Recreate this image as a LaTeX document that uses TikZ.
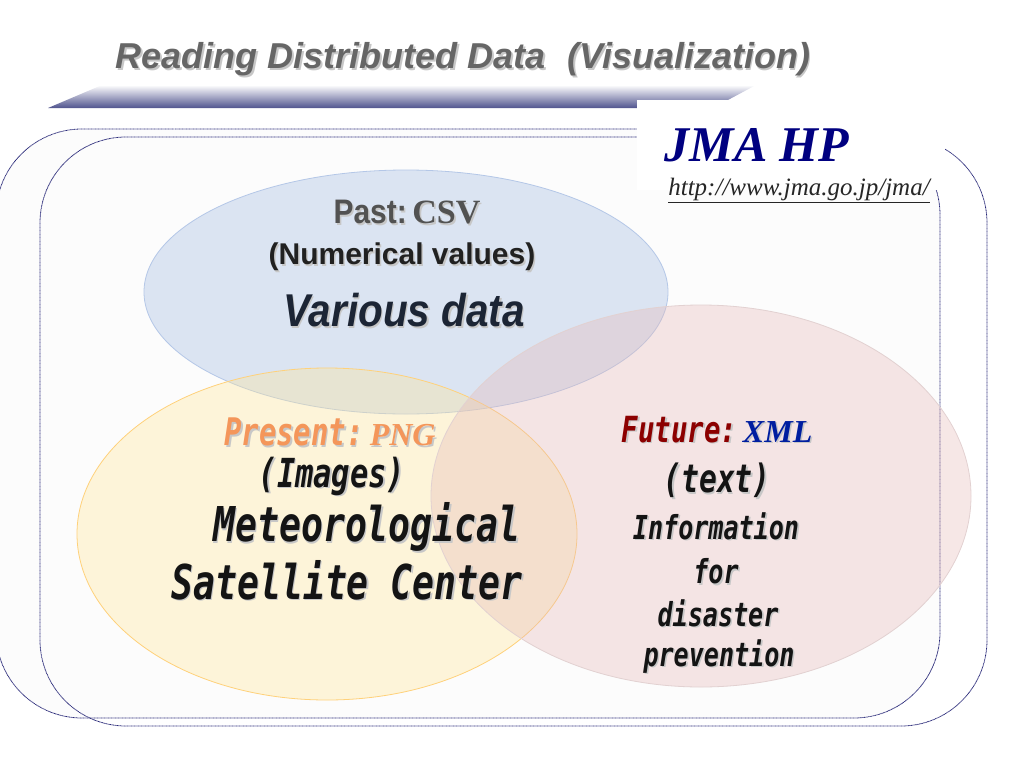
\documentclass[tikz,border=0pt]{standalone}
\usepackage{fontspec}
\usepackage{tikz}
\newfontfamily\titlefont{Liberation Sans}
\newfontfamily\serifB{Liberation Serif}
\newfontfamily\gothfont[FakeStretch=0.88]{Liberation Sans}
\newfontfamily\gothmono[FakeStretch=0.76]{DejaVu Sans Mono}
\definecolor{frameblue}{RGB}{40,40,120}
\definecolor{pastfill}{RGB}{180,199,231}
\definecolor{presfill}{RGB}{255,230,153}
\definecolor{futfill}{RGB}{230,185,184}
\definecolor{jmanavy}{RGB}{0,0,128}
\definecolor{presorange}{RGB}{244,150,90}
\definecolor{futred}{RGB}{140,0,0}
\definecolor{xmlblue}{RGB}{0,30,160}
\newcommand{\fsz}[1]{\fontsize{#1}{#1}\selectfont}
% text with a soft drop shadow
\newcommand{\shad}[1]{\makebox[0pt][l]{\hspace{1.6pt}\raisebox{-1.6pt}{\textcolor{black!22}{#1}}}#1}

\begin{document}
\begin{tikzpicture}[x=1pt,y=-1pt,
	frame/.style={draw=frameblue,line width=0.8pt,dash pattern=on 0.9pt off 0.5pt,rounded corners=86pt},
	blob/.style={fill opacity=0.45,line width=0.8pt},
	body/.style={text=black!92,font=\gothmono\bfseries\itshape},
	heading/.style={font=\gothfont\bfseries}]
	\useasboundingbox (0,0) rectangle (1024,768);
	% frames
	\draw[frame,fill=black!1] (-4,129) rectangle (940,718);
	\draw[frame] (40,137) rectangle (987,726);
	% title banner
	\shade[top color=white,bottom color={rgb,255:red,80;green,84;blue,142}]
	(48,108) -- (102,85) -- (756,85) -- (713,108) -- cycle;
	\node[text=black!60,font=\titlefont\bfseries\itshape\fsz{36}] (title) at (463,60)
	{\shad{Reading Distributed Data\hspace{0.6em}(Visualization)}};
	% JMA box
	\fill[white] (637,100) rectangle (945,190);
	\node[text=jmanavy,font=\serifB\bfseries\itshape\fsz{50}] (jma) at (757,145) {JMA HP};
	\node[text=black!85,font=\serifB\itshape\fsz{25}] (url) at (799,190) {\underline{http://www.jma.go.jp/jma/}};
	% three sets
	\draw[blob,fill=pastfill,draw=pastfill] (406,292) ellipse (262 and 122);
	\draw[blob,fill=presfill,fill opacity=0.35,draw=presfill!80!orange] (327,534) ellipse (250 and 166);
	\draw[blob,fill=futfill,fill opacity=0.35,draw=futfill!45!white!85!gray] (701,496) ellipse (270 and 191);
	% past
	\node[heading,text=black!68,font=\gothfont\bfseries\fsz{34}] (past) at (407,213)
	{\shad{Past:\,{\serifB\bfseries CSV}}};
	\node[heading,text=black!87,font=\titlefont\bfseries\fsz{30}] (numval) at (402,258) {\shad{(Numerical values)}};
	\node[heading,text={rgb,255:red,28;green,37;blue,53},font=\gothfont\bfseries\itshape\fsz{46}] (various) at (404,311) {\shad{Various data}};
	% present
	\node[body,text=presorange,font=\gothmono\bfseries\itshape\fsz{38}] (present) at (330,433)
	{\shad{Present:\,{\serifB\bfseries\itshape\fsz{32}PNG}}};
	\node[body,font=\gothmono\bfseries\itshape\fsz{40}] (images) at (332,477) {\shad{(Images)}};
	\node[body,font=\gothmono\bfseries\itshape\fsz{48}] (meteo) at (367,528) {\shad{Meteorological}};
	\node[body,font=\gothmono\bfseries\itshape\fsz{48}] (satellite) at (347,581) {\shad{Satellite Center}};
	% future
	\node[body,text=futred,font=\gothmono\bfseries\itshape\fsz{36}] (future) at (717,430)
	{\shad{Future:}\,{\serifB\bfseries\itshape\fsz{32}\color{xmlblue}\shad{XML}}};
	\node[body,font=\gothmono\bfseries\itshape\fsz{39}] (text) at (717,481) {\shad{(text)}};
	\node[body,font=\gothmono\bfseries\itshape\fsz{33}] (info) at (716,527) {\shad{Information}};
	\node[body,font=\gothmono\bfseries\itshape\fsz{33}] (for) at (716,572) {\shad{for}};
	\node[body,font=\gothmono\bfseries\itshape\fsz{33}] (disaster) at (718,614) {\shad{disaster}};
	\node[body,font=\gothmono\bfseries\itshape\fsz{33}] (prevention) at (719,657) {\shad{prevention}};
\end{tikzpicture}
\end{document}
